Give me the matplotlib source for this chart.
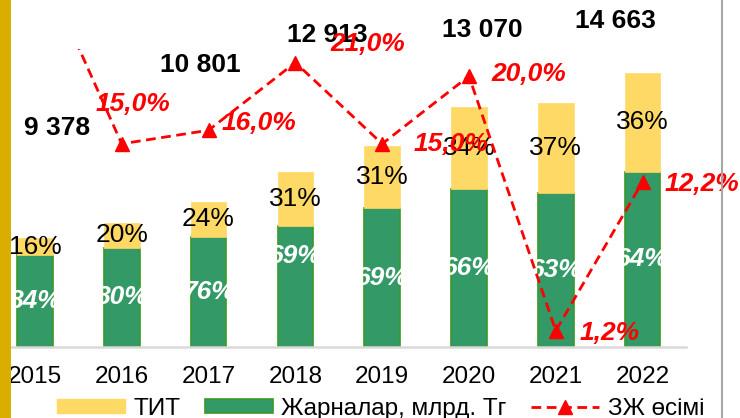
"""
Contributions (ТИТ / Жарналар) stacked bars with growth line
"""

import matplotlib.pyplot as plt
from matplotlib.patches import Patch, Rectangle
from matplotlib.lines import Line2D
import numpy as np

plt.rcParams['font.family'] = ['Liberation Sans', 'DejaVu Sans']

# Data
years = ['2015', '2016', '2017', '2018', '2019', '2020', '2021', '2022']
contrib_vals = [458, 496, 551, 604, 693, 792, 769, 877]   # Жарналар, млрд. Тг (green)
tit_vals = [87, 124, 174, 271, 312, 408, 451, 493]         # ТИТ (yellow)
contrib_pct = [84, 80, 76, 69, 69, 66, 63, 64]
tit_pct = [16, 20, 24, 31, 31, 34, 37, 36]
growth = [29.3, 15.0, 16.0, 21.0, 15.0, 20.0, 1.2, 12.2]  # ЗЖ өсімі, %
growth_labels = ['', '15,0%', '16,0%', '21,0%', '15,0%', '20,0%', '1,2%', '12,2%']
total_years = ['2015', '2017', '2018', '2020', '2022']
total_labels = ['9 378', '10 801', '12 913', '13 070', '14 663']

# label placement (layout only)
total_pos = [(0.25, 1095), (1.91, 1410), (3.37, 1560), (5.15, 1585), (6.69, 1630)]
growth_offsets = [(0, 0), (-26, 40), (13, 7), (35, 19), (31, 0), (22, 2), (24, -2), (22, -2)]

GREEN = '#339966'
GREEN_EDGE = '#3A9A28'
YELLOW = '#FFD966'
RED = '#FF0000'

fig = plt.figure(figsize=(7.4, 4.18), dpi=100)
fig.patch.set_facecolor('white')

ax = fig.add_axes([-8.5 / 740, 71 / 418, 694.5 / 740, 298 / 418])
ax.set_facecolor('none')
x = np.arange(len(years))
w = 0.41

ax.bar(x, contrib_vals, w, color=GREEN, edgecolor=GREEN_EDGE, linewidth=1.2, zorder=2)
ax.bar(x, tit_vals, w, bottom=contrib_vals, color=YELLOW, edgecolor=YELLOW,
       linewidth=0.5, zorder=2)

ax.set_xlim(-0.5, len(years) - 0.5)
ax.set_ylim(0, 1490)
ax.set_xticks(x)
ax.set_xticklabels(years, fontsize=17.5)
ax.tick_params(axis='x', length=0, pad=14)
ax.set_yticks([])
for side in ['left', 'right', 'top']:
    ax.spines[side].set_visible(False)
ax.spines['bottom'].set_color('#D9D9D9')
ax.spines['bottom'].set_linewidth(1.8)

# share labels inside bars
for i in range(len(years)):
    gy = contrib_vals[i] / 2
    if years[i] == '2018':
        gy = contrib_vals[i] * 0.75
    ax.text(x[i], gy, f'{contrib_pct[i]}%', ha='center', va='center',
            fontsize=19, color='white', fontweight='bold', fontstyle='italic', zorder=3)
    ax.text(x[i], contrib_vals[i] + tit_vals[i] / 2, f'{tit_pct[i]}%',
            ha='center', va='center', fontsize=19, color='black', zorder=3)

# totals above bars
for (tx, ty), lab in zip(total_pos, total_labels):
    ax.text(tx, ty, lab, ha='center', va='center', fontsize=19,
            fontweight='bold', color='black', clip_on=False, zorder=4)

# growth line on secondary axis
ax2 = ax.twinx()
ax2.set_ylim(0, 22)
ax2.set_yticks([])
for side in ['left', 'right', 'top', 'bottom']:
    ax2.spines[side].set_visible(False)
ax2.plot(x, growth, color=RED, linestyle=(0, (3.5, 2)), linewidth=2,
         marker='^', markersize=10, markeredgecolor=RED, zorder=5)

for i, lab in enumerate(growth_labels):
    if not lab:
        continue
    dx, dy = growth_offsets[i]
    ax2.annotate(lab, (x[i], growth[i]), xytext=(dx, dy), textcoords='offset pixels',
                 ha='left', va='center', fontsize=19, fontweight='bold',
                 fontstyle='italic', color=RED, annotation_clip=False, zorder=6)

# legend
handles = [Patch(facecolor=YELLOW, edgecolor=YELLOW, label='ТИТ'),
           Patch(facecolor=GREEN, edgecolor=GREEN_EDGE, linewidth=1.2,
                 label='Жарналар, млрд. Тг'),
           Line2D([], [], color=RED, linestyle=(0, (3.5, 2)), linewidth=2,
                  marker='^', markersize=10, label='ЗЖ өсімі')]
fig.legend(handles=handles, loc='center left', bbox_to_anchor=(57 / 740, 1 - 409 / 418),
           ncol=3, frameon=False, fontsize=17.5, handlelength=2.8, handleheight=0.5,
           handletextpad=0.35, columnspacing=1.0, borderpad=0, borderaxespad=0)

# frame decorations: gold stripe on the left, grey border on the right
fig.patches.append(Rectangle((0, 0), 11 / 740, 1, transform=fig.transFigure,
                             facecolor='#D9AE00', edgecolor='none', zorder=10))
fig.lines.append(Line2D([722 / 740, 722 / 740], [0, 1], transform=fig.transFigure,
                        color='#A6A6A6', linewidth=1.5, zorder=10))

plt.savefig('out.png', dpi=100, facecolor='white')
